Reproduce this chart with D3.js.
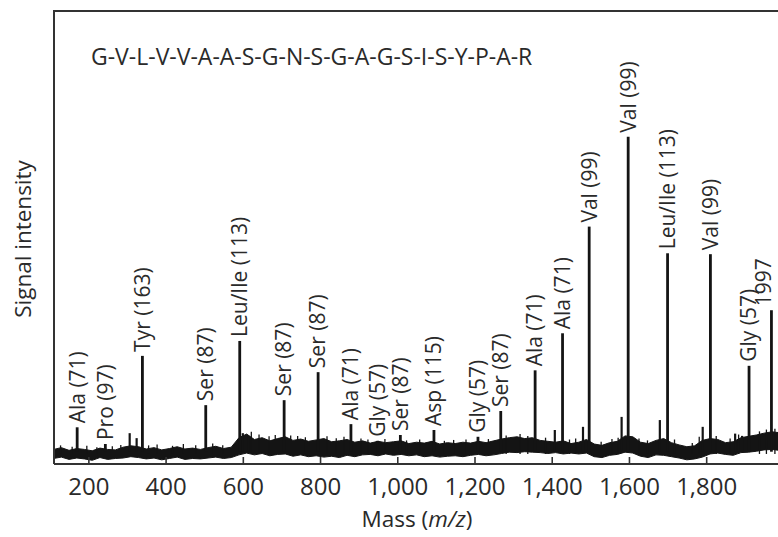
<!DOCTYPE html>
<html>
<head>
<meta charset="utf-8">
<script src="https://cdn.jsdelivr.net/npm/d3@7/dist/d3.min.js"></script>
<style>
  html, body { margin: 0; padding: 0; background: #fff; }
  svg { display: block; }
  text { font-family: "Open Sans", "Noto Sans", sans-serif; fill: #2a2a2a; }
</style>
</head>
<body>
<svg id="chart" width="778" height="537"></svg>
<script>
// Peptide sequence shown in the panel
const sequence = "G-V-L-V-V-A-A-S-G-N-S-G-A-G-S-I-S-Y-P-A-R";

// Labelled fragment peaks: m/z, intensity (a.u.), annotation
const peakMass   = [171, 244, 340, 504, 592, 707, 795, 880, 949, 1008, 1095, 1209, 1268, 1357, 1428, 1497, 1598, 1700, 1811, 1911, 1969];
const peakHeight = [7.9, 4.2, 23.7, 12.8, 27.0, 13.9, 20.1, 8.6, 4.9, 6.2, 7.3, 5.8, 11.5, 20.5, 28.7, 52.3, 72.2, 46.4, 46.2, 21.5, 33.8];
const peakLabel  = ["Ala (71)", "Pro (97)", "Tyr (163)", "Ser (87)", "Leu/Ile (113)", "Ser (87)", "Ser (87)", "Ala (71)",
                    "Gly (57)", "Ser (87)", "Asp (115)", "Gly (57)", "Ser (87)", "Ala (71)", "Ala (71)", "Val (99)",
                    "Val (99)", "Leu/Ile (113)", "Val (99)", "Gly (57)", "1997"];

// Unlabelled minor peaks and shoulders
const minorMass   = [307, 325, 600, 615, 1408, 1481, 1581, 1680, 1791, 1875, 1893];
const minorHeight = [6.6, 5.5, 6.6, 6.0, 7.3, 8.0, 10.2, 9.5, 8.0, 6.5, 6.0];

// Noise floor envelope (upper / lower edge of the baseline trace)
const noiseMass = [110, 130, 150, 170, 190, 210, 230, 250, 270, 290, 310, 330, 350, 370, 390, 410, 430, 450, 470, 490,
                   510, 530, 550, 570, 590, 610, 630, 650, 670, 690, 710, 730, 750, 770, 790, 810, 830, 850, 870, 890,
                   910, 930, 950, 970, 990, 1010, 1030, 1050, 1070, 1090, 1110, 1130, 1150, 1170, 1190, 1210, 1230, 1250, 1270, 1290,
                   1310, 1330, 1350, 1370, 1390, 1410, 1430, 1450, 1470, 1490, 1510, 1530, 1550, 1570, 1590, 1610, 1630, 1650, 1670, 1690,
                   1710, 1730, 1750, 1770, 1790, 1810, 1830, 1850, 1870, 1890, 1910, 1930, 1950, 1970, 1990];
const noiseHigh = [3.0, 3.4, 2.8, 3.2, 3.0, 2.7, 3.3, 3.0, 2.9, 3.5, 3.8, 3.6, 3.1, 3.4, 2.9, 3.2, 3.6, 3.1, 3.3, 3.0,
                   3.4, 3.7, 3.2, 3.5, 5.6, 6.4, 5.2, 5.6, 4.9, 5.4, 5.8, 5.0, 5.3, 4.8, 5.1, 5.4, 4.7, 4.9, 5.2, 4.6,
                   4.9, 4.4, 4.8, 4.5, 4.7, 4.9, 4.3, 4.6, 4.4, 4.8, 4.2, 4.5, 4.3, 4.6, 4.4, 4.8, 4.5, 4.9, 5.3, 5.6,
                   5.8, 5.4, 5.6, 5.0, 4.8, 4.6, 4.9, 4.3, 4.6, 5.2, 4.2, 3.9, 4.5, 4.8, 6.0, 5.8, 4.6, 4.3, 5.0, 5.4,
                   4.5, 4.0, 3.6, 3.8, 5.0, 5.4, 5.2, 4.5, 4.7, 5.6, 5.9, 6.2, 6.6, 6.9, 6.7];
const noiseLow  = [1.0, 1.3, 0.8, 1.1, 0.9, 0.6, 1.2, 0.8, 1.0, 1.1, 1.4, 1.2, 0.9, 1.1, 0.7, 1.0, 1.3, 0.8, 1.0, 0.9,
                   1.1, 1.3, 1.0, 1.2, 1.8, 2.2, 1.8, 2.1, 1.6, 1.9, 2.0, 1.5, 1.8, 1.4, 1.6, 1.3, 1.5, 1.2, 1.7, 1.4,
                   1.8, 1.9, 1.6, 2.0, 1.7, 1.9, 1.6, 1.8, 1.4, 1.6, 1.3, 1.5, 1.6, 1.4, 1.7, 1.9, 1.6, 1.8, 2.1, 2.4,
                   2.3, 2.5, 2.4, 2.3, 2.1, 2.3, 2.0, 2.2, 2.0, 2.2, 1.4, 1.2, 1.7, 1.9, 2.4, 2.2, 1.5, 1.2, 1.8, 1.7,
                   1.4, 1.1, 0.7, 0.9, 1.3, 2.0, 2.2, 1.9, 1.7, 2.3, 2.4, 2.6, 2.9, 3.0, 2.8];

// Short noise spikes poking out of the baseline
const spikeMass   = [128, 158, 196, 222, 262, 284, 356, 378, 418, 446, 478, 522, 548, 622, 642, 668, 684, 724, 742, 762,
                     818, 842, 862, 906, 924, 968, 1024, 1058, 1122, 1146, 1178, 1236, 1282, 1318, 1338, 1384, 1446, 1462, 1528, 1556,
                     1572, 1626, 1648, 1718, 1764, 1782, 1826, 1862, 1884, 1938, 1956, 1978];
const spikeHeight = [3.9, 3.6, 3.8, 3.5, 3.7, 4.0, 3.9, 4.1, 3.8, 4.2, 3.9, 4.3, 3.9, 6.9, 6.3, 5.9, 6.2, 6.1, 6.0, 5.7,
                     5.9, 5.5, 5.8, 5.4, 5.2, 5.3, 5.0, 5.2, 4.9, 5.1, 5.2, 5.3, 6.1, 6.4, 6.0, 5.6, 5.2, 5.4, 4.7, 5.3,
                     5.6, 5.4, 5.0, 5.2, 4.4, 5.8, 6.0, 5.4, 6.3, 7.0, 7.4, 7.6];

// Axis ticks
const xTicks = [200, 400, 600, 800, 1000, 1200, 1400, 1600, 1800];

const svg = d3.select("#chart");
const W = 778;
const box = { left: 54, right: W, top: 11, bottom: 464 };

const x = d3.scaleLinear().domain([111, 1986]).range([box.left, box.right]);
const y = d3.scaleLinear().domain([0, 100]).range([463, box.top]);
const ink = "#141414";

// Baseline noise band
const band = noiseMass.map((m, i) => ({ m, hi: noiseHigh[i], lo: noiseLow[i] }));
svg.append("path")
  .datum(band)
  .attr("fill", ink)
  .attr("stroke", ink)
  .attr("stroke-width", 1)
  .attr("d", d3.area().x(d => x(d.m)).y0(d => y(d.lo)).y1(d => y(d.hi)));

svg.append("g").selectAll("line")
  .data(spikeMass.map((m, i) => ({ m, h: spikeHeight[i] })))
  .join("line")
  .attr("x1", d => x(d.m)).attr("x2", d => x(d.m))
  .attr("y1", y(2)).attr("y2", d => y(d.h))
  .attr("stroke", ink).attr("stroke-width", 1.3);

// Minor peaks
svg.append("g").selectAll("line")
  .data(minorMass.map((m, i) => ({ m, h: minorHeight[i] })))
  .join("line")
  .attr("x1", d => x(d.m)).attr("x2", d => x(d.m))
  .attr("y1", y(2.5)).attr("y2", d => y(d.h))
  .attr("stroke", ink).attr("stroke-width", 2.2);

// Labelled peaks
const peaks = peakMass.map((m, i) => ({ m, h: peakHeight[i], label: peakLabel[i] }));
svg.append("g").selectAll("line")
  .data(peaks)
  .join("line")
  .attr("x1", d => x(d.m)).attr("x2", d => x(d.m))
  .attr("y1", y(2.5)).attr("y2", d => y(d.h))
  .attr("stroke", ink).attr("stroke-width", 2.8);

const labelSize = 21;
svg.append("g").selectAll("text")
  .data(peaks)
  .join("text")
  // rotated labels sit above their peak; the last one is nudged to stay inside the edge
  .attr("transform", d => `translate(${Math.min(x(d.m), W - 0.66 * labelSize)},${y(d.h) - 4}) rotate(-90)`)
  .attr("dy", "0.35em")
  .attr("font-size", labelSize)
  .text(d => d.label);

// Frame: left, top and bottom edges
const frame = svg.append("g").attr("stroke", "#333").attr("stroke-width", 2).attr("fill", "none");
frame.append("path").attr("d", `M${box.left},${box.bottom} V${box.top} H${box.right + 2}`);
frame.append("path").attr("d", `M${box.left},${box.bottom} H${box.right + 2}`);

// Bottom axis with inward ticks
const axis = svg.append("g")
  .attr("transform", `translate(0,${box.bottom})`)
  .call(d3.axisBottom(x).tickValues(xTicks).tickSize(-7).tickPadding(14).tickFormat(d3.format(",")));
axis.select(".domain").remove();
axis.selectAll(".tick line").attr("stroke", "#333").attr("stroke-width", 1.6);
axis.selectAll(".tick text").attr("font-size", 24).attr("fill", "#2a2a2a")
  .style("font-family", '"Open Sans", "Noto Sans", sans-serif');

// Sequence annotation
svg.append("text")
  .attr("x", 91).attr("y", 65)
  .attr("font-size", 23)
  .attr("fill", "#333")
  .text(sequence);

// Axis titles
svg.append("text")
  .attr("transform", `translate(31,239) rotate(-90)`)
  .attr("text-anchor", "middle")
  .attr("font-size", 22.5)
  .text("Signal intensity");

const xTitle = svg.append("text")
  .attr("x", 417).attr("y", 527)
  .attr("text-anchor", "middle")
  .attr("font-size", 22.5);
xTitle.append("tspan").text("Mass (");
xTitle.append("tspan").attr("font-style", "italic").text("m/z");
xTitle.append("tspan").text(")");
</script>
</body>
</html>
